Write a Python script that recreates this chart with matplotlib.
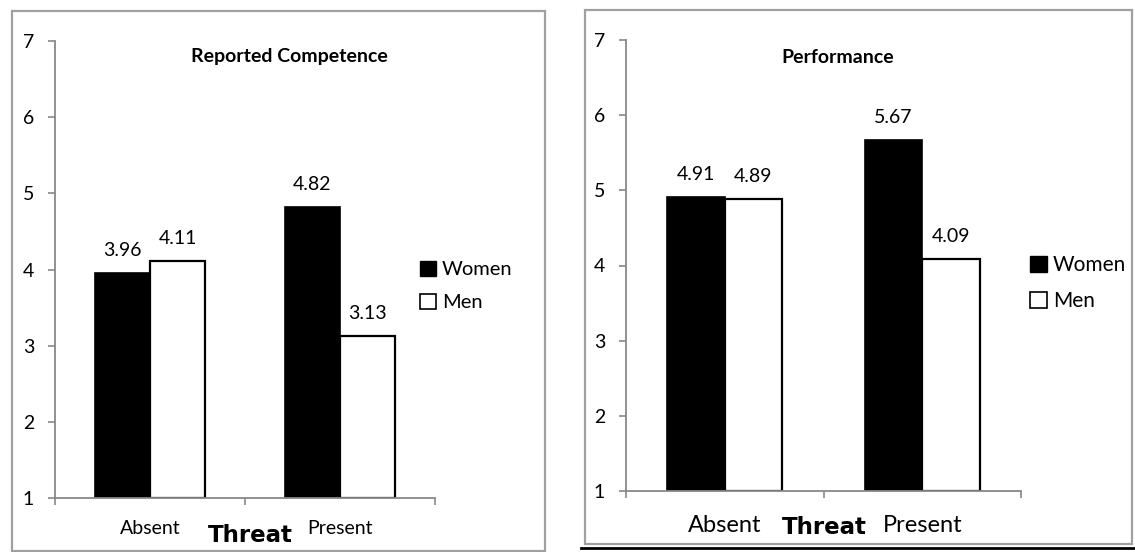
import matplotlib
matplotlib.use("Agg")
import matplotlib.pyplot as plt
from matplotlib.patches import Rectangle, Patch
from matplotlib.lines import Line2D
import numpy as np

categories = ["Absent", "Present"]
series_names = ["Women", "Men"]
competence_women = [3.96, 4.82]
competence_men = [4.11, 3.13]
performance_women = [4.91, 5.67]
performance_men = [4.89, 4.09]
titles = ["Reported Competence", "Performance"]
yticks = [1, 2, 3, 4, 5, 6, 7]

FONT = ["Lato", "DejaVu Sans"]
plt.rcParams["font.family"] = FONT

W, H = 1135, 552
fig = plt.figure(figsize=(W / 100, H / 100), dpi=100)

def fx(px):
    return px / W

def fy(py):
    return 1 - py / H

# panel frames
fig.patches.append(Rectangle((fx(12), fy(551)), fx(545 - 12), (551 - 11) / H,
                             transform=fig.transFigure, fill=False,
                             edgecolor="#a0a0a0", lw=1.6))
fig.patches.append(Rectangle((fx(585), fy(544)), fx(1132 - 585), (544 - 10) / H,
                             transform=fig.transFigure, fill=False,
                             edgecolor="#a0a0a0", lw=1.6))
fig.lines.append(Line2D([fx(581), fx(1135)], [fy(548), fy(548)],
                        transform=fig.transFigure, color="black", lw=2))

panels = [
    dict(rect=(fx(55), fy(498), fx(435 - 55), (498 - 41) / H),
         women=competence_women, men=competence_men, title=titles[0],
         title_x=0.616, title_y=6.80, tick_fs=14, val_fs=14, xl_fs=14,
         leg_fs=14.5, leg_anchor=(fx(420), fy(286)), threat_x=fx(250), threat_y=fy(536),
         threat_fs=16.5, xpad=16),
    dict(rect=(fx(626), fy(491), fx(1021 - 626), (491 - 40) / H),
         women=performance_women, men=performance_men, title=titles[1],
         title_x=0.537, title_y=6.77, tick_fs=14, val_fs=14, xl_fs=17,
         leg_fs=15, leg_anchor=(fx(1030), fy(283)), threat_x=fx(824), threat_y=fy(528),
         threat_fs=16.5, xpad=17),
]

bw = 0.29
x = np.arange(len(categories))
for p in panels:
    ax = fig.add_axes(p["rect"])
    ax.bar(x - bw / 2, np.array(p["women"]) - 1, bw, bottom=1, color="black",
           edgecolor="black", lw=1.2, label=series_names[0])
    ax.bar(x + bw / 2, np.array(p["men"]) - 1, bw, bottom=1, color="white",
           edgecolor="black", lw=1.6, label=series_names[1])
    for xs, vals in ((x - bw / 2, p["women"]), (x + bw / 2, p["men"])):
        for xi, v in zip(xs, vals):
            ax.annotate(f"{v:.2f}", (xi, v), xytext=(0, 16), textcoords="offset points",
                        ha="center", va="center", fontsize=p["val_fs"])
    ax.set_xlim(-0.5, 1.5)
    ax.set_ylim(1, 7)
    ax.set_yticks(yticks)
    ax.set_xticks(x)
    ax.set_xticklabels(categories, fontsize=p["xl_fs"])
    ax.set_xticks([-0.5, 0.5, 1.5], minor=True)
    ax.tick_params(axis="x", which="major", length=0, pad=p["xpad"])
    ax.tick_params(axis="x", which="minor", length=5, color="#888888", width=1.2, direction="out")
    ax.tick_params(axis="y", length=5, color="#888888", width=1.2, labelsize=p["tick_fs"], pad=10)
    for s in ("top", "right"):
        ax.spines[s].set_visible(False)
    for s in ("left", "bottom"):
        ax.spines[s].set_color("#888888")
        ax.spines[s].set_linewidth(1.3)
    ax.text(p["title_x"], (p["title_y"] - 1) / 6, p["title"], ha="center", va="center",
            fontsize=14, fontweight="bold", transform=ax.transAxes)
    handles = [Patch(facecolor="black", edgecolor="black"),
               Patch(facecolor="white", edgecolor="black", lw=1.2)]
    fig.legend(handles, series_names, loc="center left", bbox_to_anchor=p["leg_anchor"],
               bbox_transform=fig.transFigure, frameon=False, fontsize=p["leg_fs"],
               handlelength=0.8, handleheight=0.8, handletextpad=0.3, labelspacing=0.75,
               borderpad=0, borderaxespad=0)
    fig.text(p["threat_x"], p["threat_y"], "Threat", ha="center", va="center",
             fontsize=p["threat_fs"], fontweight="bold", family=["DejaVu Sans"])

fig.savefig("out.png", dpi=100)
